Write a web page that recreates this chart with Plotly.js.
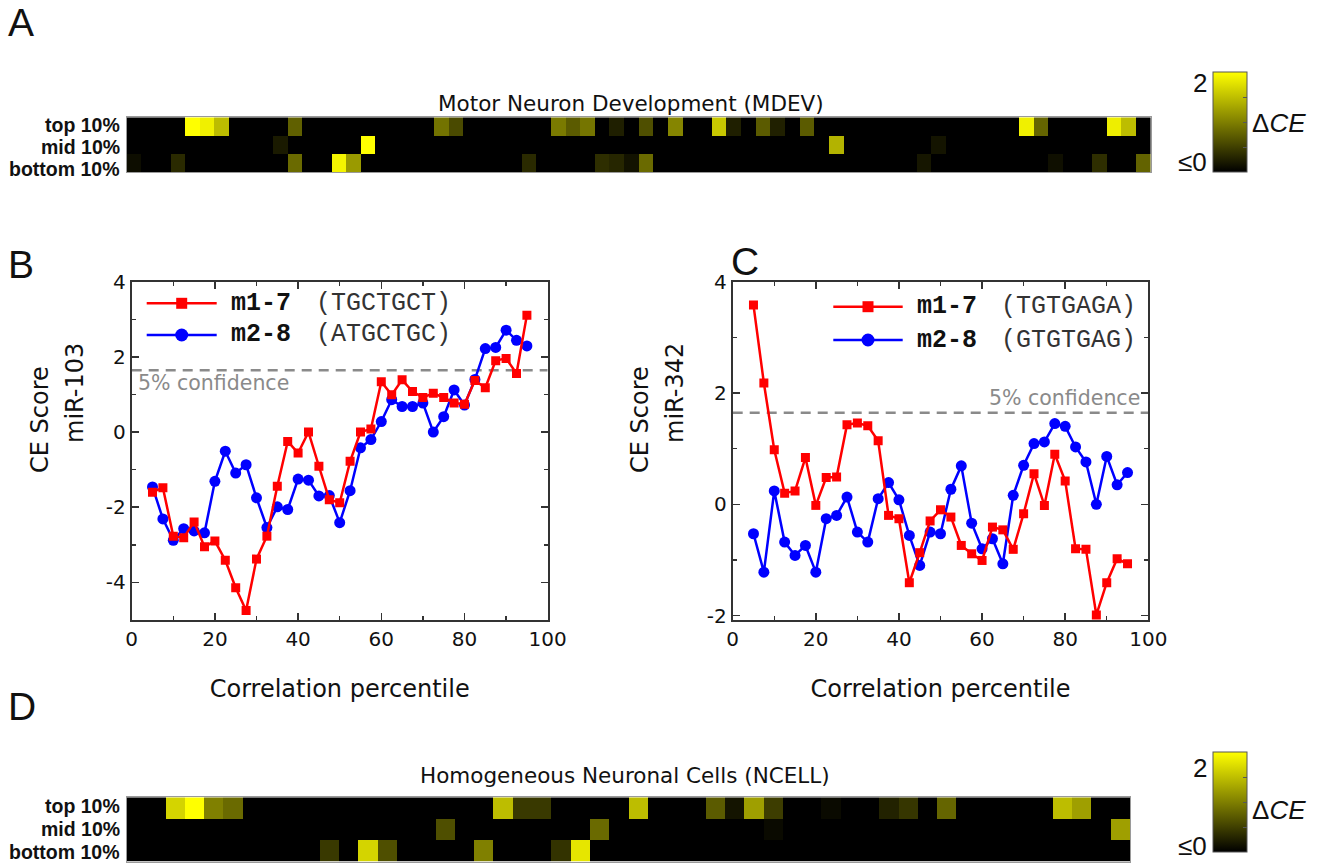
<!DOCTYPE html>
<html>
<head>
<meta charset="utf-8">
<script src="https://cdn.plot.ly/plotly-3.0.1.min.js"></script>
<style>html,body{margin:0;padding:0;background:#fff;}#chart{width:1332px;height:864px;}</style>
</head>
<body>
<div id="chart"></div>
<script>
// ---------------- DATA ----------------
const percentile = [5,7.5,10,12.5,15,17.5,20,22.5,25,27.5,30,32.5,35,37.5,40,42.5,45,47.5,50,52.5,55,57.5,60,62.5,65,67.5,70,72.5,75,77.5,80,82.5,85,87.5,90,92.5,95];

// Panel B: miR-103
const mir103_m17 = [-1.60,-1.48,-2.77,-2.81,-2.39,-3.05,-2.90,-3.41,-4.14,-4.75,-3.38,-2.77,-1.44,-0.25,-0.56,0.00,-0.91,-1.80,-1.88,-0.78,0.00,0.08,1.34,0.99,1.39,1.08,0.92,1.03,0.92,0.77,0.74,1.37,1.18,1.90,1.96,1.56,3.11];
const mir103_m28 = [-1.46,-2.31,-2.88,-2.57,-2.63,-2.68,-1.31,-0.51,-1.09,-0.87,-1.75,-2.54,-1.99,-2.06,-1.25,-1.28,-1.70,-1.69,-2.41,-1.56,-0.42,-0.20,0.28,0.86,0.68,0.68,0.77,0.00,0.41,1.12,0.72,1.40,2.22,2.25,2.71,2.44,2.29];

// Panel C: miR-342
const mir342_m17 = [3.58,2.18,0.98,0.20,0.24,0.84,-0.02,0.48,0.49,1.43,1.46,1.41,1.14,-0.20,-0.26,-1.41,-0.87,-0.30,-0.10,-0.23,-0.74,-0.89,-1.01,-0.41,-0.46,-0.81,-0.17,0.55,-0.02,0.90,0.42,-0.80,-0.81,-1.99,-1.41,-0.98,-1.07];
const mir342_m28 = [-0.53,-1.22,0.24,-0.68,-0.92,-0.74,-1.22,-0.26,-0.20,0.13,-0.50,-0.68,0.10,0.39,0.08,-0.56,-1.10,-0.50,-0.53,0.27,0.69,-0.34,-0.80,-0.62,-1.07,0.16,0.70,1.09,1.12,1.45,1.40,1.03,0.76,0.00,0.86,0.35,0.57];

const confidence5 = 1.645;

const xTickVals = [0, 20, 40, 60, 80, 100];
const xTickText = ['0', '20', '40', '60', '80', '100'];
const yTickValsB = [-4, -2, 0, 2, 4];
const yTickTextB = ['-4', '-2', '0', '2', '4'];
const yTickValsC = [-2, 0, 2, 4];
const yTickTextC = ['-2', '0', '2', '4'];

const legendB = ["m1-7", "(TGCTGCT)", "m2-8", "(ATGCTGC)"];
const legendC = ["m1-7", "(TGTGAGA)", "m2-8", "(GTGTGAG)"];
const rowLabels = ["top 10%", "mid 10%", "bottom 10%"];

// Panel A: Motor Neuron Development (MDEV), delta CE
const mdevTop = [0,0,0,0,2.0,1.88,1.48,0,0,0,
  0,0.75,0,0,0,0,0,0,0,0,
  0,0.9,0.58,0,0,0,0,0,0,0.96,
  0.71,0.92,0,0.24,0,0.62,0,1.04,0,0,
  1.57,0.24,0,0.71,0.25,0,0.71,0,0,0,
  0,0,0,0,0,0,0,0,0,0,
  0,1.88,0.79,0,0,0,0,1.87,1.48,0];
const mdevMid = [0,0,0,0,0,0,0,0,0,0,
  0.2,0,0,0,0,0,2.0,0,0,0,
  0,0,0,0,0,0,0,0,0,0,
  0,0,0,0,0,0,0,0,0,0,
  0,0,0,0,0,0,0,0,1.4,0,
  0,0,0,0,0,0.16,0,0,0,0,
  0,0,0,0,0,0,0,0,0,0];
const mdevBottom = [0.1,0,0,0.33,0,0,0,0,0,0,
  0,0.83,0,0,1.92,1.21,0,0,0,0,
  0,0,0,0,0,0,0,0.33,0,0,
  0,0,0.36,0.3,0.14,0.83,0,0,0,0,
  0,0,0,0,0,0,0,0,0,0,
  0,0,0,0,0.17,0,0,0,0,0,
  0,0,0,0.12,0,0,0.36,0,0,0.78];

// Panel D: Homogeneous Neuronal Cells (NCELL), delta CE
const ncellTop = [0,0,1.66,2.0,1.0,0.83,0,0,0,0,
  0,0,0,0,0,0,0,0,0,1.48,
  0.45,0.45,0,0,0,0,1.48,0,0,0,
  0.71,0.16,1.25,0.48,0,0,0.08,0,0,0.27,
  0.42,0,0.79,0,0,0,0,0,1.48,1.25,
  0,0];
const ncellMid = [0,0,0,0,0,0,0,0,0,0,
  0,0,0,0,0,0,0.62,0,0,0,
  0,0,0,0,0.83,0,0,0,0,0,
  0,0,0,0.08,0,0,0,0,0,0,
  0,0,0,0,0,0,0,0,0,0,
  0,1.25];
const ncellBottom = [0,0,0,0,0,0,0,0,0,0,
  0.45,0,1.66,0.62,0,0,0,0,1.0,0,
  0,0,0.4,1.8,0,0,0,0,0,0,
  0,0,0,0,0,0,0,0,0,0,
  0,0,0,0,0,0,0,0,0,0,
  0,0];

// ---------------- LAYOUT HELPERS ----------------
const W = 1332, H = 864;
const px = v => v / W;
const py = v => 1 - v / H;
const SANS = 'DejaVu Sans';
const ARIAL = 'Liberation Sans, Arial, sans-serif';
const MONO = 'Liberation Mono, Courier New, monospace';
const RED = '#ff0000', BLUE = '#0000ff';

function ann(text, x, y, xanchor, font, extra) {
  return Object.assign({text: text, x: px(x), y: py(y), xref: 'paper', yref: 'paper',
    showarrow: false, xanchor: xanchor, yanchor: 'middle', font: font}, extra || {});
}

const heatScale = [[0, '#000000'], [1, '#ffff00']];
function cbar(yc) {
  return {x: px(1213), xanchor: 'left', xpad: 0, y: py(yc), yanchor: 'middle', ypad: 0,
    len: 100, lenmode: 'pixels', thickness: 34, thicknessmode: 'pixels',
    outlinewidth: 1, outlinecolor: '#555', showticklabels: false,
    ticks: 'inside', tickvals: [0.5, 1, 1.5], ticklen: 4, tickcolor: '#555'};
}

function heatAxis(x0, x1) {
  return {domain: [px(x0), px(x1)], showticklabels: false, ticks: '', showgrid: false,
    zeroline: false, showline: true, mirror: true, linecolor: '#9a9a9a', linewidth: 1};
}

const tickFont = {family: SANS, size: 20, color: '#111'};
function lineX(x0, x1, anchor) {
  return {domain: [px(x0), px(x1)], anchor: anchor, range: [0, 100],
    tickmode: 'array', tickvals: xTickVals, ticktext: xTickText,
    ticks: 'inside', ticklen: 7, tickwidth: 1.5, tickcolor: '#333',
    showline: true, linecolor: '#333', linewidth: 2, mirror: 'ticks',
    showgrid: false, zeroline: false, tickfont: tickFont,
    minor: {dtick: 10, tick0: 0, ticks: 'inside', ticklen: 4, tickwidth: 1.5, tickcolor: '#333', showgrid: false},
    title: {text: 'Correlation percentile', font: {family: SANS, size: 24, color: '#111'}, standoff: 30}};
}
function lineY(range, anchor, vals, text) {
  return {domain: [py(620), py(281.7)], anchor: anchor, range: range,
    tickmode: 'array', tickvals: vals, ticktext: text,
    ticks: 'inside', ticklen: 7, tickwidth: 1.5, tickcolor: '#333',
    showline: true, linecolor: '#333', linewidth: 2, mirror: 'ticks',
    showgrid: false, zeroline: false, tickfont: tickFont,
    minor: {dtick: 1, tick0: 0, ticks: 'inside', ticklen: 4, tickwidth: 1.5, tickcolor: '#333', showgrid: false}};
}

// ---------------- TRACES ----------------
const traces = [
  {type: 'heatmap', z: [mdevBottom, mdevMid, mdevTop], y: [0, 1, 2],
   xaxis: 'x', yaxis: 'y', coloraxis: 'coloraxis', hoverinfo: 'z'},
  {type: 'heatmap', z: [ncellBottom, ncellMid, ncellTop], y: [0, 1, 2],
   xaxis: 'x4', yaxis: 'y4', coloraxis: 'coloraxis2', hoverinfo: 'z'},
  {type: 'scatter', mode: 'lines+markers', x: percentile, y: mir103_m28, xaxis: 'x2', yaxis: 'y2',
   line: {color: BLUE, width: 2.5}, marker: {symbol: 'circle', size: 11, color: BLUE}, showlegend: false},
  {type: 'scatter', mode: 'lines+markers', x: percentile, y: mir103_m17, xaxis: 'x2', yaxis: 'y2',
   line: {color: RED, width: 2.5}, marker: {symbol: 'square', size: 9, color: RED}, showlegend: false},
  {type: 'scatter', mode: 'lines+markers', x: percentile, y: mir342_m28, xaxis: 'x3', yaxis: 'y3',
   line: {color: BLUE, width: 2.5}, marker: {symbol: 'circle', size: 11, color: BLUE}, showlegend: false},
  {type: 'scatter', mode: 'lines+markers', x: percentile, y: mir342_m17, xaxis: 'x3', yaxis: 'y3',
   line: {color: RED, width: 2.5}, marker: {symbol: 'square', size: 9, color: RED}, showlegend: false}
];

// ---------------- SHAPES ----------------
const shapes = [];
[['x2', 'y2'], ['x3', 'y3']].forEach(([xr, yr]) => {
  shapes.push({type: 'line', xref: xr, yref: yr, x0: 0, x1: 100, y0: confidence5, y1: confidence5,
    line: {color: '#8a8a8a', width: 2.5, dash: '10px,7px'}, layer: 'below'});
});
function legendSample(x0, x1, y, color, symbol) {
  shapes.push({type: 'line', xref: 'paper', yref: 'paper', x0: px(x0), x1: px(x1), y0: py(y), y1: py(y),
    line: {color: color, width: 2.5}});
  const cx = (x0 + x1) / 2, r = symbol === 'square' ? 5.5 : 6.5;
  shapes.push({type: symbol === 'square' ? 'rect' : 'circle', xref: 'paper', yref: 'paper',
    x0: px(cx - r), x1: px(cx + r), y0: py(y + r), y1: py(y - r),
    fillcolor: color, line: {color: color, width: 0}});
}
legendSample(146.7, 216.7, 303.3, RED, 'square');
legendSample(146.7, 216.7, 335, BLUE, 'circle');
legendSample(833.3, 902.7, 306.7, RED, 'square');
legendSample(833.3, 902.7, 340, BLUE, 'circle');

// ---------------- ANNOTATIONS ----------------
const letterFont = {family: ARIAL, size: 39, color: '#111'};
const rowFont = {family: ARIAL, size: 19.5, color: '#111', weight: 'bold'};
const titleFont = {family: SANS, size: 21.5, color: '#111'};
const cbFont = {family: ARIAL, size: 26, color: '#111'};
const yTitleFont = {family: SANS, size: 24, color: '#111'};
const legBold = {family: MONO, size: 25, color: '#111', weight: 'bold'};
const legReg = {family: MONO, size: 25, color: '#333'};
const confFont = {family: SANS, size: 20.5, color: '#8a8a8a'};

const annotations = [
  ann('A', 6, 23, 'left', letterFont),
  ann('B', 6, 264, 'left', letterFont),
  ann('C', 729, 262, 'left', letterFont),
  ann('D', 6, 706, 'left', letterFont),
  ann('Motor Neuron Development (MDEV)', 631, 103, 'center', titleFont),
  ann('Homogeneous Neuronal Cells (NCELL)', 625, 775, 'center', titleFont),
  ann('<b>' + rowLabels[0] + '</b>', 122, 125, 'right', rowFont),
  ann('<b>' + rowLabels[1] + '</b>', 122, 147, 'right', rowFont),
  ann('<b>' + rowLabels[2] + '</b>', 122, 169, 'right', rowFont),
  ann('<b>' + rowLabels[0] + '</b>', 122, 806, 'right', rowFont),
  ann('<b>' + rowLabels[1] + '</b>', 122, 829, 'right', rowFont),
  ann('<b>' + rowLabels[2] + '</b>', 122, 852, 'right', rowFont),
  ann('2', 1209, 83, 'right', cbFont),
  ann('\u22640', 1209, 162, 'right', cbFont),
  ann('\u0394<i>CE</i>', 1250, 123, 'left', cbFont),
  ann('2', 1209, 768, 'right', cbFont),
  ann('\u22640', 1209, 846, 'right', cbFont),
  ann('\u0394<i>CE</i>', 1250, 810, 'left', cbFont),
  ann('CE Score', 40, 420, 'center', yTitleFont, {textangle: -90}),
  ann('miR-103', 75, 393, 'center', yTitleFont, {textangle: -90}),
  ann('CE Score', 640, 420, 'center', yTitleFont, {textangle: -90}),
  ann('miR-342', 675, 393, 'center', yTitleFont, {textangle: -90}),
  ann('<b>' + legendB[0] + '</b>', 229, 303.3, 'left', legBold),
  ann(legendB[1], 314, 303.3, 'left', legReg),
  ann('<b>' + legendB[2] + '</b>', 229, 335, 'left', legBold),
  ann(legendB[3], 314, 335, 'left', legReg),
  ann('<b>' + legendC[0] + '</b>', 914.5, 306.7, 'left', legBold),
  ann(legendC[1], 999, 306.7, 'left', legReg),
  ann('<b>' + legendC[2] + '</b>', 914.5, 340, 'left', legBold),
  ann(legendC[3], 999, 340, 'left', legReg),
  ann('5% confidence', 136, 383, 'left', confFont),
  ann('5% confidence', 1142, 398, 'right', confFont)
];

// ---------------- LAYOUT ----------------
const layout = {
  width: W, height: H, margin: {l: 0, r: 0, t: 0, b: 0},
  paper_bgcolor: '#ffffff', plot_bgcolor: '#ffffff', showlegend: false,
  font: {family: SANS, color: '#111'},
  xaxis: Object.assign(heatAxis(126.7, 1150.8), {anchor: 'y', range: [-0.5, mdevTop.length - 0.5]}),
  yaxis: {domain: [py(172.3), py(117.3)], anchor: 'x', range: [-0.5, 2.5],
    showticklabels: false, ticks: '', showgrid: false, zeroline: false, showline: true, mirror: true, linecolor: '#9a9a9a', linewidth: 1},
  xaxis4: Object.assign(heatAxis(127, 1130), {anchor: 'y4', range: [-0.5, ncellTop.length - 0.5]}),
  yaxis4: {domain: [py(861.7), py(797.3)], anchor: 'x4', range: [-0.5, 2.5],
    showticklabels: false, ticks: '', showgrid: false, zeroline: false, showline: true, mirror: true, linecolor: '#9a9a9a', linewidth: 1},
  xaxis2: lineX(131.7, 547.7, 'y2'),
  yaxis2: lineY([-5, 4], 'x2', yTickValsB, yTickTextB),
  xaxis3: lineX(732.7, 1148.3, 'y3'),
  yaxis3: lineY([-2.08, 4], 'x3', yTickValsC, yTickTextC),
  coloraxis: {colorscale: heatScale, cmin: 0, cmax: 2, colorbar: cbar(122)},
  coloraxis2: {colorscale: heatScale, cmin: 0, cmax: 2, colorbar: cbar(802)},
  shapes: shapes,
  annotations: annotations
};

Plotly.newPlot('chart', traces, layout, {staticPlot: true, displayModeBar: false});
</script>
</body>
</html>
